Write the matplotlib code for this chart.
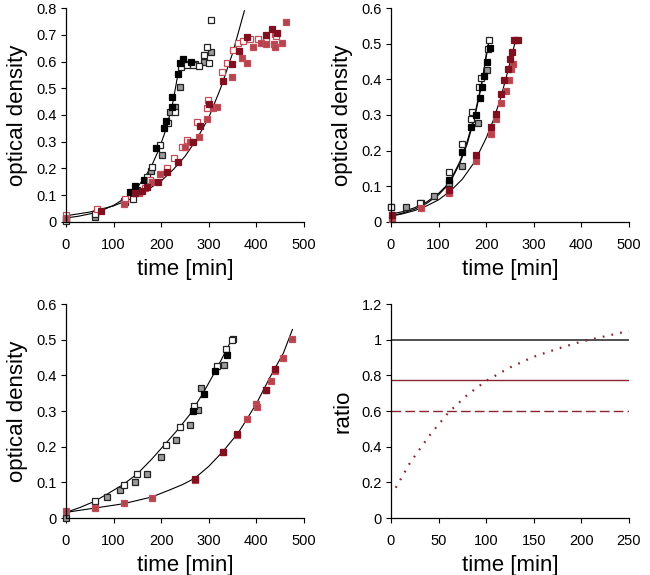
import matplotlib.pyplot as plt
from matplotlib.ticker import FuncFormatter

plt.rcParams["font.family"] = ["Liberation Sans", "DejaVu Sans"]

DARK_RED = "#80101f"
MID_RED = "#b4454f"
OPEN_RED = "#c24d58"
GRAY = "#9a9a9a"

# ---- panel A (top left) ----
a_black_t = [0, 135, 145, 163, 189, 205, 210, 222, 223, 236, 240, 245, 262]
a_black_od = [0.012, 0.113, 0.134, 0.156, 0.278, 0.35, 0.379, 0.429, 0.466, 0.554, 0.596, 0.609, 0.6]
a_gray_t = [62, 125, 150, 178, 201, 218, 230, 240, 250, 272, 290, 305]
a_gray_od = [0.019, 0.075, 0.12, 0.19, 0.25, 0.41, 0.43, 0.505, 0.59, 0.59, 0.6, 0.634]
a_open_t = [0, 62, 121, 140, 170, 180, 198, 215, 229, 242, 254, 266, 280, 290, 296, 301, 304]
a_open_od = [0.004, 0.03, 0.08, 0.084, 0.169, 0.206, 0.288, 0.371, 0.41, 0.58, 0.588, 0.588, 0.584, 0.625, 0.656, 0.594, 0.756]
a_dred_t = [74, 145, 159, 170, 194, 212, 236, 268, 282, 301, 329, 348, 364, 380, 421, 434, 444]
a_dred_od = [0.041, 0.109, 0.116, 0.129, 0.15, 0.188, 0.225, 0.3, 0.359, 0.44, 0.528, 0.591, 0.641, 0.691, 0.698, 0.7225, 0.706]
a_mred_t = [0, 121, 154, 180, 198, 250, 261, 280, 296, 310, 318, 348, 369, 380, 394, 409, 421, 437, 439, 453, 462]
a_mred_od = [0.015, 0.069, 0.109, 0.15, 0.181, 0.281, 0.3, 0.319, 0.384, 0.425, 0.431, 0.541, 0.613, 0.594, 0.656, 0.669, 0.665, 0.665, 0.656, 0.669, 0.746]
a_ored_t = [0, 65, 124, 166, 177, 212, 226, 243, 254, 275, 296, 299, 327, 338, 352, 362, 373, 387, 404, 421, 439, 442]
a_ored_od = [0.025, 0.05, 0.085, 0.128, 0.156, 0.203, 0.238, 0.281, 0.306, 0.375, 0.425, 0.456, 0.559, 0.594, 0.644, 0.669, 0.675, 0.684, 0.684, 0.675, 0.703, 0.694]
a_fit1_t = [0, 25, 50, 75, 100, 125, 150, 165, 180, 195, 210, 225, 240]
a_fit1_od = [0.015, 0.021, 0.03, 0.043, 0.062, 0.09, 0.13, 0.165, 0.21, 0.27, 0.345, 0.45, 0.6]
a_fit2_t = [0, 50, 100, 150, 200, 225, 250, 275, 300, 325, 350, 375]
a_fit2_od = [0.023, 0.037, 0.06, 0.096, 0.153, 0.195, 0.245, 0.31, 0.39, 0.5, 0.63, 0.79]

# ---- panel B (top right) ----
b_black_t = [122, 150, 169, 178, 187, 192, 196, 201, 208]
b_black_od = [0.117, 0.197, 0.265, 0.3, 0.347, 0.378, 0.41, 0.448, 0.488]
b_gray_t = [0, 31, 63, 91, 122, 150, 182, 201]
b_gray_od = [0.042, 0.042, 0.052, 0.073, 0.108, 0.158, 0.277, 0.427]
b_open_t = [0, 62, 121, 150, 169, 171, 185, 190, 203, 206]
b_open_od = [0.042, 0.054, 0.139, 0.218, 0.29, 0.309, 0.378, 0.403, 0.486, 0.509]
b_dred_t = [2, 122, 178, 210, 220, 231, 238, 245, 250, 255, 259, 266]
b_dred_od = [0.019, 0.089, 0.187, 0.265, 0.303, 0.358, 0.398, 0.429, 0.457, 0.478, 0.509, 0.509]
b_mred_t = [2, 63, 122, 178, 210, 220, 232, 241, 248, 252, 257, 262]
b_mred_od = [0.009, 0.04, 0.08, 0.171, 0.247, 0.288, 0.335, 0.368, 0.398, 0.429, 0.443, 0.509]
b_fit1_t = [0, 25, 50, 75, 100, 115, 130, 145, 160, 175, 190, 205]
b_fit1_od = [0.022, 0.029, 0.04, 0.056, 0.08, 0.1, 0.13, 0.17, 0.225, 0.295, 0.385, 0.5]
b_fit2_t = [0, 25, 50, 75, 100, 115, 130, 145, 160, 175, 190, 203]
b_fit2_od = [0.017, 0.025, 0.036, 0.052, 0.076, 0.097, 0.126, 0.165, 0.218, 0.288, 0.38, 0.495]
b_fit3_t = [0, 25, 50, 75, 100, 125, 150, 175, 200, 215, 230, 245, 262]
b_fit3_od = [0.016, 0.023, 0.032, 0.045, 0.062, 0.087, 0.12, 0.167, 0.235, 0.285, 0.345, 0.42, 0.51]

# ---- panel C (bottom left) ----
c_black_t = [268, 290, 313, 338]
c_black_od = [0.299, 0.349, 0.412, 0.457]
c_gray_t = [0, 86, 114, 145, 170, 200, 231, 261, 277, 284, 332, 350]
c_gray_od = [0.0, 0.058, 0.08, 0.101, 0.125, 0.172, 0.22, 0.262, 0.303, 0.366, 0.428, 0.503]
c_open_t = [62, 121, 149, 210, 240, 270, 317, 336, 348]
c_open_od = [0.047, 0.092, 0.125, 0.206, 0.255, 0.314, 0.427, 0.475, 0.5]
c_dred_t = [271, 331, 360, 420, 440]
c_dred_od = [0.11, 0.186, 0.237, 0.358, 0.417]
c_mred_t = [0, 62, 121, 180, 271, 331, 360, 380, 400, 402, 420, 430, 440, 456, 476]
c_mred_od = [0.019, 0.028, 0.042, 0.056, 0.106, 0.184, 0.232, 0.279, 0.319, 0.312, 0.358, 0.384, 0.412, 0.45, 0.502]
c_fit1_t = [0, 30, 60, 90, 120, 150, 180, 210, 235, 260, 288, 316, 348]
c_fit1_od = [0.016, 0.03, 0.047, 0.07, 0.094, 0.124, 0.165, 0.21, 0.248, 0.29, 0.35, 0.417, 0.5]
c_fit2_t = [0, 60, 120, 180, 218, 245, 271, 300, 330, 362, 380, 401, 428, 457, 476]
c_fit2_od = [0.016, 0.028, 0.04, 0.059, 0.079, 0.094, 0.112, 0.145, 0.187, 0.239, 0.277, 0.323, 0.393, 0.463, 0.529]

# ---- panel D (bottom right) ----
d_black_level = 1.0
d_solid_level = 0.775
d_dashed_level = 0.6
d_curve_t = [5, 20, 40, 60, 80, 100, 125, 150, 175, 200, 225, 250]
d_curve_r = [0.17, 0.31, 0.46, 0.59, 0.69, 0.77, 0.845, 0.905, 0.95, 0.99, 1.02, 1.05]

fig = plt.figure(figsize=(6.5, 5.75), dpi=100)
ax_a = fig.add_axes([0.1015, 0.614, 0.366, 0.372])
ax_b = fig.add_axes([0.6015, 0.614, 0.366, 0.372])
ax_c = fig.add_axes([0.1015, 0.099, 0.366, 0.372])
ax_d = fig.add_axes([0.6015, 0.099, 0.366, 0.372])

ms = 4.2


def style(ax, xmax, xstep, ymax, ystep, ylabel):
    ax.set_xlim(0, xmax)
    ax.set_ylim(0, ymax)
    ax.set_xticks([i * xstep for i in range(int(round(xmax / xstep)) + 1)])
    ax.set_yticks([round(i * ystep, 2) for i in range(int(round(ymax / ystep)) + 1)])
    ax.yaxis.set_major_formatter(FuncFormatter(lambda v, p: "%g" % v))
    for s in ["top", "right"]:
        ax.spines[s].set_visible(False)
    for s in ["left", "bottom"]:
        ax.spines[s].set_linewidth(0.9)
    ax.tick_params(direction="out", length=3.5, width=0.8, labelsize=10.5)
    ax.tick_params(axis="x", pad=8)
    ax.tick_params(axis="y", pad=3)
    ax.set_xlabel("time [min]", fontsize=16, labelpad=5)
    ax.set_ylabel(ylabel, fontsize=16, labelpad=6)


def markers(ax, t, y, face, edge):
    ax.plot(t, y, "s", ms=ms, mfc=face, mec=edge, mew=0.9, ls="none", clip_on=False)


def growth(ax, black, gray, opn, dred, mred, ored, fits):
    for ft, fy in fits:
        ax.plot(ft, fy, color="black", lw=0.8)
    if gray:
        markers(ax, *gray, GRAY, "#222222")
    if opn:
        markers(ax, *opn, "white", "#222222")
    if black:
        markers(ax, *black, "black", "black")
    if ored:
        markers(ax, *ored, "white", OPEN_RED)
    if mred:
        markers(ax, *mred, MID_RED, OPEN_RED)
    if dred:
        markers(ax, *dred, DARK_RED, DARK_RED)


growth(ax_a, (a_black_t, a_black_od), (a_gray_t, a_gray_od), (a_open_t, a_open_od),
       (a_dred_t, a_dred_od), (a_mred_t, a_mred_od), (a_ored_t, a_ored_od),
       [(a_fit1_t, a_fit1_od), (a_fit2_t, a_fit2_od)])
style(ax_a, 500, 100, 0.8, 0.1, "optical density")

growth(ax_b, (b_black_t, b_black_od), (b_gray_t, b_gray_od), (b_open_t, b_open_od),
       (b_dred_t, b_dred_od), (b_mred_t, b_mred_od), None,
       [(b_fit1_t, b_fit1_od), (b_fit2_t, b_fit2_od), (b_fit3_t, b_fit3_od)])
style(ax_b, 500, 100, 0.6, 0.1, "optical density")

growth(ax_c, (c_black_t, c_black_od), (c_gray_t, c_gray_od), (c_open_t, c_open_od),
       (c_dred_t, c_dred_od), (c_mred_t, c_mred_od), None,
       [(c_fit1_t, c_fit1_od), (c_fit2_t, c_fit2_od)])
style(ax_c, 500, 100, 0.6, 0.1, "optical density")

ax_d.axhline(d_black_level, color="#333333", lw=1.2)
ax_d.axhline(d_solid_level, color="#8a2530", lw=1.0)
ax_d.axhline(d_dashed_level, color="#8a2530", lw=1.0, ls=(0, (7, 3)))
ax_d.plot(d_curve_t, d_curve_r, color="#8a2530", lw=1.6, ls=(0, (0.8, 3.2)))
style(ax_d, 250, 50, 1.2, 0.2, "ratio")

fig.savefig("out.png", dpi=100)
